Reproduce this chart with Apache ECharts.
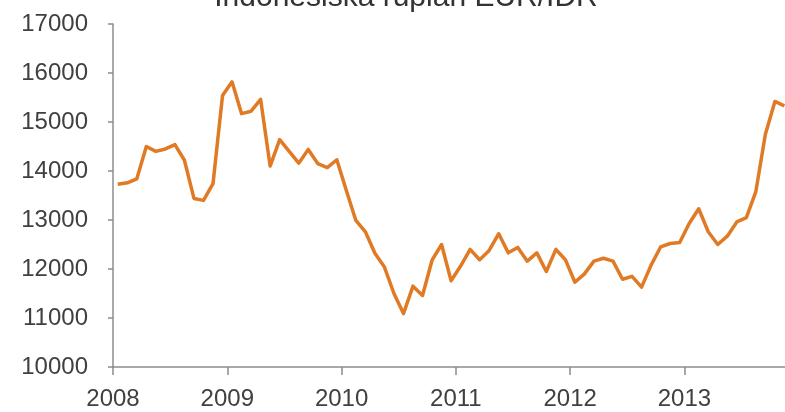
<!DOCTYPE html>
<html>
<head>
<meta charset="utf-8">
<script src="https://cdn.jsdelivr.net/npm/echarts@6/dist/echarts.min.js"></script>
<style>html,body{margin:0;padding:0;background:#fff}#c{width:785px;height:412px}</style>
</head>
<body>
<div id="c"></div>
<script>
const titleText = 'Indonesiska rupiah EUR/IDR';
const startYear = 2008;
const startMonth = 1;
// monthly EUR/IDR values, Jan 2008 onwards
const values = [
  13730, 13760, 13840, 14500, 14400, 14450, 14540, 14220, 13440, 13400, 13740, 15540,
  15820, 15170, 15220, 15460, 14100, 14640, 14400, 14160, 14440, 14150, 14070, 14230,
  13600, 12990, 12760, 12320, 12040, 11500, 11090, 11650, 11460, 12180, 12500, 11760,
  12060, 12400, 12190, 12380, 12720, 12330, 12440, 12160, 12330, 11950, 12400, 12190,
  11730, 11900, 12160, 12220, 12160, 11790, 11850, 11630, 12080, 12450, 12520, 12540,
  12930, 13230, 12760, 12500, 12670, 12960, 13050, 13580, 14750, 15420, 15330
];
const yearTicks = [2008, 2009, 2010, 2011, 2012, 2013];
const yMin = 10000, yMax = 17000, yStep = 1000;

// mid-month positions in decimal years
const points = values.map((v, i) => {
  const m = startMonth - 1 + i;
  return [startYear + (m + 0.5) / 12, v];
});

const axisGray = '#8c8c8c';
const labelColor = '#404040';
const chart = echarts.init(document.getElementById('c'));
chart.setOption({
  animation: false,
  title: {
    text: titleText,
    left: 401,
    textAlign: 'center',
    top: -22,
    textStyle: { fontFamily: 'Liberation Sans', fontSize: 30, fontWeight: 'normal', color: '#333' }
  },
  grid: { left: 113, right: 0, top: 24, bottom: 45 },
  xAxis: {
    type: 'value',
    min: 2008,
    max: 2013.88,
    interval: 1,
    splitLine: { show: false },
    axisLine: { lineStyle: { color: axisGray, width: 1.5 } },
    axisTick: { show: true, length: 8, customValues: yearTicks, lineStyle: { color: axisGray, width: 1.5 } },
    axisLabel: {
      customValues: yearTicks,
      margin: 20,
      fontFamily: 'Liberation Sans',
      fontSize: 24,
      color: labelColor,
      formatter: v => String(Math.round(v))
    }
  },
  yAxis: {
    type: 'value',
    min: yMin,
    max: yMax,
    interval: yStep,
    splitLine: { show: false },
    axisLine: { show: true, lineStyle: { color: axisGray, width: 1.5 } },
    axisTick: { show: true, length: 5, lineStyle: { color: axisGray, width: 1.5 } },
    axisLabel: {
      margin: 25,
      fontFamily: 'Liberation Sans',
      fontSize: 24,
      color: labelColor,
      formatter: v => String(v)
    }
  },
  series: [{
    type: 'line',
    data: points,
    showSymbol: false,
    symbol: 'none',
    lineStyle: { color: '#E07A25', width: 3.5, join: 'round' },
    clip: true
  }]
});
</script>
</body>
</html>
